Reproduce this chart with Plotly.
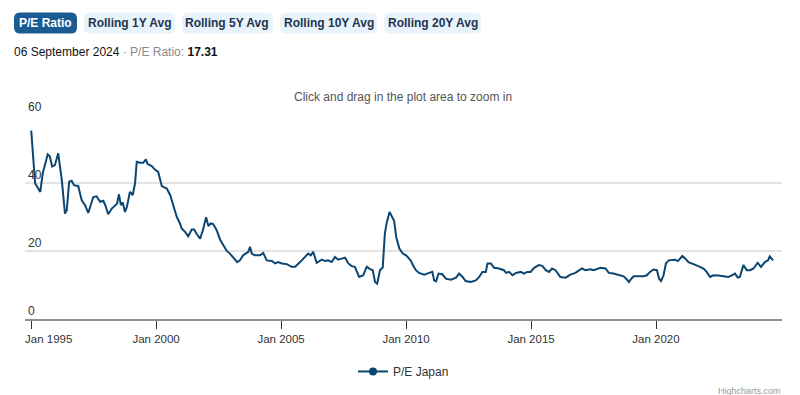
import plotly.graph_objects as go

# ---------------- data ----------------
dates = [
    "1995-01-03", "1995-03-01", "1995-04-01", "1995-05-15", "1995-06-20", "1995-09-01", "1995-10-01",
    "1995-11-05", "1995-12-15", "1996-02-01", "1996-03-25", "1996-05-10", "1996-06-05", "1996-07-10",
    "1996-08-15", "1996-09-20", "1996-11-20", "1997-01-10", "1997-02-28", "1997-04-15", "1997-06-28",
    "1997-08-15", "1997-10-05", "1997-11-20", "1997-12-20", "1998-02-01", "1998-03-25", "1998-05-10",
    "1998-06-10", "1998-07-08", "1998-08-05", "1998-09-01", "1998-10-05", "1998-11-01", "1998-12-15",
    "1999-01-25", "1999-02-28", "1999-03-25", "1999-05-10", "1999-06-28", "1999-08-05", "1999-09-01",
    "1999-10-30", "1999-12-15", "2000-02-01", "2000-03-25", "2000-06-05", "2000-07-25", "2000-09-10",
    "2000-10-30", "2000-12-15", "2001-01-10", "2001-02-28", "2001-04-15", "2001-06-05", "2001-07-10",
    "2001-08-20", "2001-10-05", "2001-11-15", "2002-01-01", "2002-02-05", "2002-03-10", "2002-04-15",
    "2002-06-05", "2002-07-25", "2002-09-10", "2002-10-30", "2002-12-15", "2003-02-01", "2003-04-01",
    "2003-05-10", "2003-06-28", "2003-09-10", "2003-10-05", "2003-10-30", "2003-12-15", "2004-02-28",
    "2004-04-15", "2004-06-05", "2004-08-20", "2004-10-05", "2004-11-20", "2005-01-10", "2005-03-25",
    "2005-06-05", "2005-07-25", "2005-10-05", "2005-12-15", "2006-02-01", "2006-03-10", "2006-04-15",
    "2006-06-05", "2006-08-20", "2006-10-05", "2006-11-20", "2007-01-10", "2007-02-28", "2007-04-15",
    "2007-06-05", "2007-07-25", "2007-09-10", "2007-10-30", "2007-12-15", "2008-02-15", "2008-04-15",
    "2008-06-05", "2008-07-25", "2008-09-01", "2008-10-05", "2008-11-05", "2008-12-15", "2009-01-25",
    "2009-02-25", "2009-03-25", "2009-05-05", "2009-06-10", "2009-07-10", "2009-08-10", "2009-09-25",
    "2009-11-15", "2010-01-01", "2010-02-15", "2010-03-15", "2010-04-10", "2010-05-25", "2010-07-10",
    "2010-09-25", "2010-12-05", "2011-01-20", "2011-02-15", "2011-03-15", "2011-04-20", "2011-06-15",
    "2011-08-05", "2011-10-20", "2012-01-01", "2012-02-15", "2012-04-05", "2012-05-20", "2012-08-05",
    "2012-10-15", "2012-12-05", "2013-01-20", "2013-03-10", "2013-04-05", "2013-05-25", "2013-07-10",
    "2013-09-20", "2013-12-01", "2014-01-01", "2014-02-15", "2014-04-05", "2014-05-25", "2014-08-05",
    "2014-09-20", "2014-11-05", "2014-12-25", "2015-02-15", "2015-04-25", "2015-06-15", "2015-08-05",
    "2015-09-20", "2015-11-05", "2015-12-25", "2016-03-05", "2016-05-20", "2016-07-30", "2016-10-10",
    "2016-11-25", "2017-01-15", "2017-03-05", "2017-05-20", "2017-07-05", "2017-08-25", "2017-10-10",
    "2017-12-25", "2018-02-10", "2018-04-20", "2018-07-05", "2018-09-15", "2018-11-05", "2018-12-01",
    "2019-01-05", "2019-02-10", "2019-04-20", "2019-07-05", "2019-08-20", "2019-10-05", "2019-11-25",
    "2020-01-15", "2020-02-15", "2020-03-15", "2020-04-20", "2020-05-25", "2020-07-05", "2020-08-20",
    "2020-10-05", "2020-11-15", "2020-12-20", "2021-01-20", "2021-03-05", "2021-04-20", "2021-07-01",
    "2021-08-20", "2021-10-05", "2021-11-25", "2022-01-10", "2022-03-01", "2022-04-20", "2022-07-01",
    "2022-09-10", "2022-11-25", "2023-01-10", "2023-02-28", "2023-04-10", "2023-05-10", "2023-07-01",
    "2023-08-20", "2023-10-05", "2023-11-25", "2024-01-25", "2024-03-15", "2024-05-10", "2024-06-25",
    "2024-07-20", "2024-09-06",
]
pe_japan = [
    55.6, 40.0, 39.0, 37.5, 43.0, 48.6, 48.0,
    45.0, 45.4, 48.9, 41.0, 31.1, 32.0, 40.5,
    40.8, 39.5, 39.2, 35.0, 33.6, 31.3, 36.0,
    36.2, 34.6, 34.9, 33.6, 30.9, 32.6, 33.6,
    34.0, 36.8, 33.6, 34.4, 31.6, 33.1, 37.5,
    36.6, 40.0, 46.4, 46.1, 46.1, 47.1, 45.7,
    45.1, 44.1, 43.4, 39.2, 38.5, 36.6, 33.6,
    30.1, 28.2, 26.7, 25.7, 24.4, 26.4, 26.4,
    25.0, 23.7, 26.2, 30.0, 27.4, 28.2, 28.0,
    26.2, 23.4, 21.8, 20.1, 19.3, 18.3, 16.8,
    17.3, 18.8, 19.8, 21.3, 19.3, 18.8, 18.8,
    19.5, 17.3, 17.1, 16.4, 16.8, 16.4, 16.2,
    15.4, 15.4, 16.8, 18.3, 19.3, 18.8, 19.8,
    16.6, 17.5, 17.1, 17.3, 16.8, 18.3, 17.5,
    17.8, 18.1, 16.4, 15.6, 15.4, 12.4, 12.9,
    15.4, 14.7, 14.4, 10.9, 10.4, 14.4, 15.2,
    25.2, 28.5, 31.6, 30.1, 29.0, 24.2, 20.8,
    19.3, 18.8, 17.8, 17.1, 15.9, 14.4, 13.6,
    13.1, 13.6, 13.9, 11.4, 11.1, 13.4, 13.2,
    11.9, 11.6, 12.2, 13.4, 12.4, 11.2, 10.9,
    11.4, 12.4, 13.9, 13.9, 16.4, 16.4, 15.1,
    14.9, 14.4, 13.6, 13.9, 12.9, 13.6, 13.9,
    13.4, 13.9, 13.9, 15.1, 15.9, 15.7, 14.4,
    13.9, 14.9, 14.4, 12.4, 12.2, 13.1, 13.6,
    14.2, 14.9, 14.4, 14.7, 14.4, 14.7, 15.1,
    14.9, 13.6, 13.4, 12.9, 12.6, 11.6, 10.9,
    11.9, 12.6, 12.6, 12.6, 12.9, 13.9, 14.6,
    14.4, 11.9, 11.2, 12.9, 16.4, 17.3, 17.5,
    17.5, 17.1, 17.8, 18.6, 17.8, 16.8, 16.2,
    15.9, 15.4, 14.9, 13.9, 12.4, 12.9, 12.8,
    12.6, 12.4, 12.9, 13.4, 12.2, 12.4, 15.9,
    14.4, 14.4, 14.9, 16.6, 15.4, 16.8, 17.3,
    18.5, 17.31,
]
series_name = "P/E Japan"
x_tick_vals = ["1995-01-01", "2000-01-01", "2005-01-01", "2010-01-01", "2015-01-01", "2020-01-01"]
x_tick_text = ["Jan 1995", "Jan 2000", "Jan 2005", "Jan 2010", "Jan 2015", "Jan 2020"]
y_tick_vals = [0, 20, 40, 60]
button_labels = ["P/E Ratio", "Rolling 1Y Avg", "Rolling 5Y Avg", "Rolling 10Y Avg", "Rolling 20Y Avg"]
last_date_text = "06 September 2024"
last_value_text = "17.31"

# ---------------- layout geometry ----------------
# The page body adds an 8px offset; geometry below is given in screen pixels
# and converted to figure pixels by subtracting that offset.
OFF = 8
W, H = 800, 395
SL, SR, ST, SB = 25, 782, 115.3, 318.7          # plot box in screen pixels
L, T = SL - OFF, ST - OFF
R, B = W - (SR - OFF), H - (SB - OFF)
PW, PH = W - L - R, H - T - B
FONT = "Liberation Sans, Arial, Helvetica, sans-serif"
LINE = "#0b4672"


def pxx(x):
    return (x - OFF - L) / PW


def pxy(y):
    return (H - B - (y - OFF)) / PH


def rrect(x0, y0, x1, y1, r):
    rx, ry = r / PW, r / PH
    X0, X1 = pxx(x0), pxx(x1)
    Yt, Yb = pxy(y0), pxy(y1)
    return (f"M{X0+rx},{Yt} L{X1-rx},{Yt} Q{X1},{Yt} {X1},{Yt-ry} "
            f"L{X1},{Yb+ry} Q{X1},{Yb} {X1-rx},{Yb} L{X0+rx},{Yb} "
            f"Q{X0},{Yb} {X0},{Yb+ry} L{X0},{Yt-ry} Q{X0},{Yt} {X0+rx},{Yt} Z")


# the first tick label is justified to the right of its tick (as Highcharts does):
# it is drawn as an annotation anchored on its tick date
tick_labels_shown = [""] + x_tick_text[1:]

button_px = [(14, 77), (84, 175), (182, 273), (280, 377), (384, 481)]

fig = go.Figure()
fig.add_trace(go.Scatter(
    x=dates, y=pe_japan, mode="lines", name=series_name,
    line=dict(color=LINE, width=2), showlegend=False,
))
fig.add_trace(go.Scatter(
    x=[None], y=[None], mode="lines+markers", name=series_name,
    line=dict(color=LINE, width=2), marker=dict(color=LINE, size=8),
))

shapes = []
annotations = []
for i, (lab, (bx0, bx1)) in enumerate(zip(button_labels, button_px)):
    sel = i == 0
    shapes.append(dict(type="path", xref="paper", yref="paper",
                       path=rrect(bx0, 13, bx1, 34, 6),
                       fillcolor="#1a5b92" if sel else "#e8f3fb",
                       line=dict(width=0), layer="above"))
    annotations.append(dict(xref="paper", yref="paper", x=pxx((bx0 + bx1) / 2), y=pxy(23.5),
                            text=f"<b>{lab}</b>", showarrow=False, xanchor="center", yanchor="middle",
                            font=dict(family=FONT, size=12, color="#ffffff" if sel else "#1d3650")))

annotations.append(dict(
    xref="x", yref="paper", x=x_tick_vals[0], y=pxy(339), xshift=-8,
    xanchor="left", yanchor="middle", showarrow=False, text=x_tick_text[0],
    font=dict(family=FONT, size=11.5, color="#333333")))
annotations.append(dict(
    xref="paper", yref="paper", x=pxx(12), y=pxy(52), xanchor="left", yanchor="middle", showarrow=False,
    text=(f"<span style='color:#111111'>{last_date_text}</span>"
          f"<span style='color:#8a8a8a'> · P/E Ratio: </span><b>{last_value_text}</b>"),
    font=dict(family=FONT, size=12, color="#111111")))
annotations.append(dict(
    xref="paper", yref="paper", x=pxx(403), y=pxy(97), xanchor="center", yanchor="middle", showarrow=False,
    text="Click and drag in the plot area to zoom in", font=dict(family=FONT, size=12, color="#555555")))
annotations.append(dict(
    xref="paper", yref="paper", x=pxx(783), y=pxy(390), xanchor="right", yanchor="middle", showarrow=False,
    text="Highcharts.com", font=dict(family=FONT, size=9, color="#999999")))

fig.update_layout(
    width=W, height=H,
    margin=dict(l=L, r=R, t=T, b=B, pad=0, autoexpand=False),
    paper_bgcolor="#ffffff", plot_bgcolor="#ffffff",
    font=dict(family=FONT, size=12, color="#333333"),
    shapes=shapes, annotations=annotations,
    legend=dict(orientation="h", x=0.5, xanchor="center", y=pxy(371), yanchor="middle",
                font=dict(family=FONT, size=12, color="#333333"), itemwidth=30),
    hovermode="x",
    xaxis=dict(
        type="date", range=["1994-10-04", "2025-01-15"], automargin=False,
        tickvals=x_tick_vals, ticktext=tick_labels_shown,
        ticks="outside", ticklen=8, tickwidth=1, tickcolor="#333333",
        showline=True, linecolor="#8f8f8f", linewidth=2,
        showgrid=False, zeroline=False, ticklabeloverflow="allow",
        tickfont=dict(family=FONT, size=11.5, color="#333333"),
    ),
    yaxis=dict(
        range=[0, 60.2], tickvals=y_tick_vals, automargin=False,
        ticklabelposition="inside top", ticklabeloverflow="allow",
        showgrid=True, gridcolor="#e3e3e3", gridwidth=1.5,
        zeroline=False, showline=False, ticks="",
        tickfont=dict(family=FONT, size=12, color="#333333"),
    ),
)

fig.write_html("out.html")
